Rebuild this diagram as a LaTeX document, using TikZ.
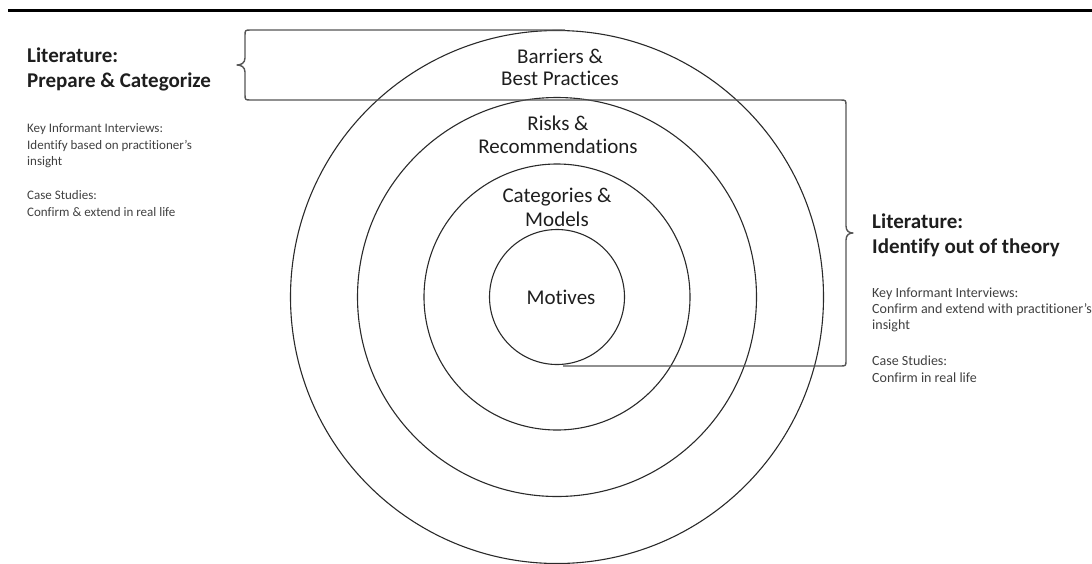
\documentclass[tikz,border=0pt]{standalone}
\usepackage{fontspec}
\setmainfont{Carlito}[Ligatures={TeX,NoCommon}]
\definecolor{ink}{HTML}{1E1E1E}
\definecolor{note}{HTML}{404040}
\definecolor{ringc}{HTML}{2A2A2A}
\definecolor{brk}{HTML}{555555}
\begin{document}
\begin{tikzpicture}[x=1pt,y=-1pt,
  ring/.style={draw=ringc, line width=1.1pt, circle, inner sep=0pt, outer sep=0pt},
  lbl/.style={anchor=base, inner sep=0pt, text=ink, font=\fontsize{21}{24}\selectfont},
  head/.style={anchor=base west, inner sep=0pt, text=ink, font=\fontsize{21}{24}\selectfont\bfseries},
  small/.style={anchor=base west, inner sep=0pt, text=note, font=\fontsize{14}{17}\selectfont},
  smallL/.style={small, font=\fontsize{13}{16}\selectfont},
  bracket/.style={draw=brk, line width=1.4pt, line join=round}]
\useasboundingbox (0,0) rectangle (1092,563);

% heading rule
\draw[line width=3pt] (8,10) -- (1092,10);

% concentric rings
\coordinate (ctr) at (557,297);
\node[ring, minimum size=533pt] (outer) at (ctr) {};
\node[ring, minimum size=399pt] (second) at (ctr) {};
\node[ring, minimum size=266pt] (third) at (ctr) {};
\node[ring, minimum size=135pt] (inner) at (ctr) {};

% ring labels
\node[lbl] (b1) at (560,63) {Barriers \&};
\node[lbl] (b2) at (560,85) {Best Practices};
\node[lbl] (r1) at (558,130) {Risks \&};
\node[lbl] (r2) at (558,153) {Recommendations};
\node[lbl] (m1) at (557,202) {Categories \&};
\node[lbl] (m2) at (557,226) {Models};
\node[lbl] (mo) at (561,304) {Motives};

% braces joining the rings to the side notes
\draw[bracket]
  (565,30) -- (251,30) .. controls (245,30) .. (245,36)
  -- (245,58) .. controls (245,63) and (241,65) .. (237,65)
  .. controls (241,65) and (245,67) .. (245,72)
  -- (245,94) .. controls (245,100) .. (251,100)
  -- (840,100) .. controls (846,100) .. (846,106)
  -- (846,226) .. controls (846,231) and (849,233) .. (853,233)
  .. controls (849,233) and (846,235) .. (846,240)
  -- (846,360) .. controls (846,366) .. (840,366)
  -- (563,366);

% left notes
\node[head] (lh1) at (27,62) {Literature:};
\node[head] (lh2) at (27,87) {Prepare \& Categorize};
\node[smallL] (ls1) at (27,132) {Key Informant Interviews:};
\node[smallL] (ls2) at (27,149) {Identify based on practitioner's};
\node[smallL] (ls3) at (27,165) {insight};
\node[smallL] (ls4) at (27,199) {Case Studies:};
\node[smallL] (ls5) at (27,216) {Confirm \& extend in real life};

% right notes
\node[head] (rh1) at (872,228) {Literature:};
\node[head] (rh2) at (872,253) {Identify out of theory};
\node[small] (rs1) at (872,297) {Key Informant Interviews:};
\node[small] (rs2) at (872,313) {Confirm and extend with practitioner's};
\node[small] (rs3) at (872,329) {insight};
\node[small] (rs4) at (872,365) {Case Studies:};
\node[small] (rs5) at (872,382) {Confirm in real life};
\end{tikzpicture}
\end{document}
